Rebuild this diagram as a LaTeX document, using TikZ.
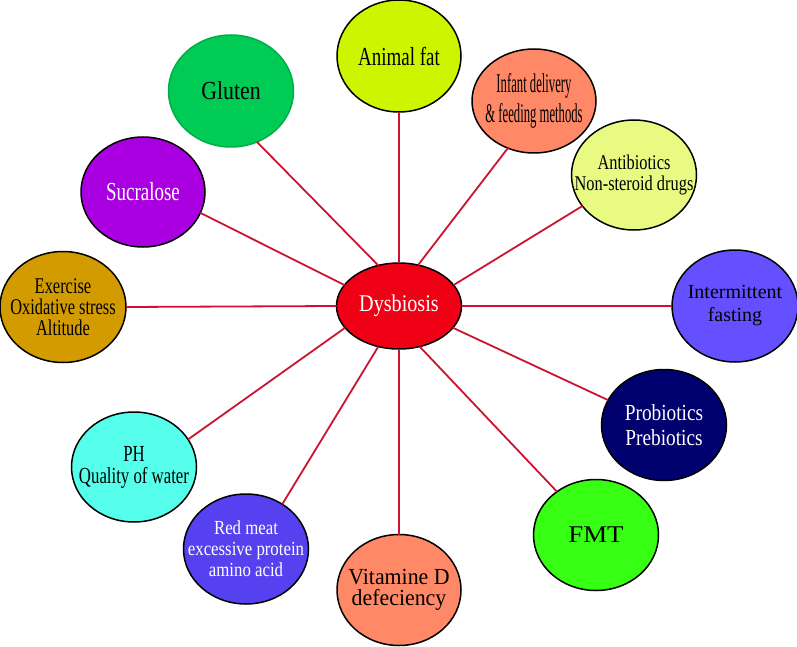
\documentclass[tikz,border=0pt]{standalone}
\usepackage{fontspec}
\setmainfont{Liberation Serif}
\newfontfamily\fsA[FakeStretch=0.47]{Liberation Serif}
\newfontfamily\fsB[FakeStretch=0.73]{Liberation Serif}
\newfontfamily\fsC[FakeStretch=0.78]{Liberation Serif}
\newfontfamily\fsD[FakeStretch=0.84]{Liberation Serif}
\newfontfamily\fsE[FakeStretch=0.95]{Liberation Serif}
\newfontfamily\fsF{Liberation Serif}
\newfontfamily\fsG[FakeStretch=1.12]{Liberation Serif}
\usetikzlibrary{shapes.geometric}
\definecolor{canim}{RGB}{205,245,0}
\definecolor{cglut}{RGB}{0,204,85}
\definecolor{cinf}{RGB}{255,136,102}
\definecolor{cantib}{RGB}{232,250,130}
\definecolor{csucr}{RGB}{170,0,225}
\definecolor{cexer}{RGB}{210,155,0}
\definecolor{cinter}{RGB}{100,80,255}
\definecolor{cprob}{RGB}{0,0,110}
\definecolor{cph}{RGB}{85,255,235}
\definecolor{cfmt}{RGB}{55,255,20}
\definecolor{cmeat}{RGB}{85,65,240}
\definecolor{cvit}{RGB}{255,136,102}
\definecolor{cdys}{RGB}{240,0,20}
\definecolor{clink}{RGB}{204,20,50}
\tikzset{
  bub/.style={ellipse, draw=black, line width=1.5pt, minimum width=125pt, minimum height=111pt, inner sep=0pt, outer sep=0pt},
  txt/.style={align=center, inner sep=0pt, text=black},
  wtxt/.style={align=center, inner sep=0pt, text=white},
  link/.style={draw=clink, line width=1.8pt}
}
\begin{document}
\begin{tikzpicture}[x=1pt,y=-1pt]
\useasboundingbox (0,0) rectangle (797,647);
\fill[white] (0,0) rectangle (797,647);
% outer bubbles
\node[bub, fill=canim, minimum width=124pt, minimum height=112pt,
  label={[txt,font=\fsB\fontsize{26}{26}\selectfont]center:{Animal fat}}] (an) at (399,56) {};
\node[bub, fill=cglut, draw=cglut!85!black, minimum height=112pt,
  label={[txt,font=\fsD\fontsize{26}{26}\selectfont]center:{Gluten}}] (gl) at (231,91) {};
\node[bub, fill=cinf, minimum width=124pt, minimum height=104pt,
  label={[txt,font=\fsA\fontsize{27}{30}\selectfont]center:{Infant delivery\\\& feeding methods}}] (inf) at (534,101) {};
\node[bub, fill=cantib, minimum height=110pt,
  label={[txt,font=\fsC\fontsize{21}{21}\selectfont]center:{Antibiotics\\Non-steroid drugs}}] (ab) at (634,175) {};
\node[bub, fill=csucr, minimum width=124pt, minimum height=110pt,
  label={[wtxt,font=\fsB\fontsize{26}{26}\selectfont]center:{Sucralose}}] (su) at (143,192) {};
\node[bub, fill=cexer, minimum width=126pt,
  label={[txt,font=\fsB\fontsize{22.5}{21}\selectfont]center:{Exercise\\Oxidative stress\\Altitude}}] (ex) at (63,307) {};
\node[bub, fill=cinter, minimum width=126pt, minimum height=112pt,
  label={[txt,font=\fsF\fontsize{20}{23}\selectfont]center:{Intermittent\\fasting}}] (im) at (735,306) {};
\node[bub, fill=cprob,
  label={[wtxt,font=\fsD\fontsize{23}{25}\selectfont]center:{Probiotics\\Prebiotics}}] (pr) at (664,425) {};
\node[bub, fill=cph, minimum height=110pt,
  label={[txt,font=\fsB\fontsize{23}{22}\selectfont]center:{PH\\Quality of water}}] (ph) at (134,467) {};
\node[bub, fill=cfmt,
  label={[txt,font=\fsG\fontsize{24}{24}\selectfont]center:{FMT}}] (fm) at (596,535) {};
\node[bub, fill=cmeat, minimum height=110pt,
  label={[wtxt,font=\fsD\fontsize{20}{21}\selectfont]center:{Red meat\\excessive protein\\amino acid}}] (rm) at (246,549) {};
\node[bub, fill=cvit, minimum width=124pt,
  label={[txt,font=\fsE\fontsize{23}{21}\selectfont]center:{Vitamine D\\defeciency}}] (vd) at (399,590) {};
% centre
\node[bub, fill=cdys, minimum height=86pt,
  label={[wtxt,font=\fsD\fontsize{24}{24}\selectfont]center:{Dysbiosis}}] (dy) at (399,306) {};
% connectors
\draw[link] (an.south) -- (dy.north);
\draw[link] (gl.-63) -- (dy.117);
\draw[link] (su.-20) -- (dy.159);
\draw[link] (ex.east) -- (dy.west);
\draw[link] (ph.27) -- (dy.-158);
\draw[link] (rm.51) -- (dy.-117);
\draw[link] (dy.south) -- (vd.north);
\draw[link] (dy.-63) -- (fm.132);
\draw[link] (dy.-22) -- (pr.156);
\draw[link] (dy.east) -- (im.west);
\draw[link] (dy.21) -- (ab.-149);
\draw[link] (dy.65) -- (inf.-119);
\end{tikzpicture}
\end{document}
